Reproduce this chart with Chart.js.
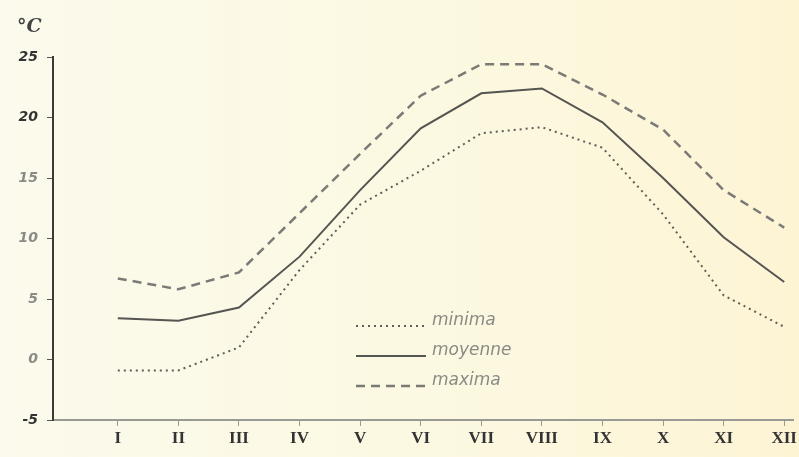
<!DOCTYPE html>
<html>
<head>
<meta charset="utf-8">
<script src="https://cdn.jsdelivr.net/npm/chart.js@4"></script>
<style>
  html, body { margin: 0; padding: 0; }
  body { width: 799px; height: 457px; background: linear-gradient(to right, #fbfaec, #fcf8e0 60%, #fdf4d4); }
  canvas { display: block; }
</style>
</head>
<body>
<canvas id="tempChart" width="799" height="457"></canvas>
<script>
// mois (chiffres romains)
var months = ['I', 'II', 'III', 'IV', 'V', 'VI', 'VII', 'VIII', 'IX', 'X', 'XI', 'XII'];
// températures en °C
var minima = [-0.9, -0.9, 1.0, 7.4, 12.8, 15.6, 18.7, 19.2, 17.5, 12.0, 5.3, 2.7];
var moyenne = [3.4, 3.2, 4.3, 8.5, 14.0, 19.1, 22.0, 22.4, 19.6, 15.0, 10.1, 6.4];
var maxima = [6.7, 5.8, 7.2, 12.1, 17.0, 21.8, 24.4, 24.4, 21.9, 19.0, 14.0, 10.9];
var yTicks = [-5, 0, 5, 10, 15, 20, 25];

function toPoints(arr) {
    return arr.map(function (v, i) { return { x: i + 1, y: v }; });
}

// °C en haut a gauche + legende dans le graphique
var extras = {
    id: 'extras',
    afterDraw: function (chart) {
        var c = chart.ctx;
        var area = chart.chartArea;
        c.save();
        c.fillStyle = '#444';
        c.font = 'italic bold 19px "DejaVu Serif"';
        c.textBaseline = 'alphabetic';
        c.fillText('°C', area.left - 36, area.top - 25);

        var lx = area.left + 303, ly = area.top + 265;
        chart.data.datasets.forEach(function (ds, i) {
            var y = ly + i * 30;
            c.beginPath();
            c.strokeStyle = ds.borderColor;
            c.lineWidth = ds.borderWidth;
            c.setLineDash(ds.borderDash || []);
            c.moveTo(lx, y + 4);
            c.lineTo(lx + 70, y + 4);
            c.stroke();
            c.setLineDash([]);
            c.fillStyle = '#8a8a86';
            c.font = 'italic 17px "DejaVu Sans"';
            c.fillText(ds.label, lx + 76, y + 3);
        });
        c.restore();
    }
};

var ctx = document.getElementById('tempChart').getContext('2d');
var chart = new Chart(ctx, {
    type: 'line',
    data: {
        datasets: [{
            label: 'minima',
            data: toPoints(minima),
            borderColor: '#5e5e5a',
            borderWidth: 2,
            borderDash: [2, 4],
            pointRadius: 0,
            tension: 0
        }, {
            label: 'moyenne',
            data: toPoints(moyenne),
            borderColor: '#555551',
            borderWidth: 2,
            pointRadius: 0,
            tension: 0
        }, {
            label: 'maxima',
            data: toPoints(maxima),
            borderColor: '#7a7a76',
            borderWidth: 2.5,
            borderDash: [9, 6],
            pointRadius: 0,
            tension: 0
        }]
    },
    options: {
        responsive: false,
        animation: false,
        layout: { padding: { top: 57, right: 2, left: 0, bottom: 0 } },
        plugins: {
            legend: { display: false },
            tooltip: { enabled: false }
        },
        scales: {
            x: {
                type: 'linear',
                min: -0.07,
                max: 12.16,
                afterBuildTicks: function (axis) {
                    axis.ticks = months.map(function (m, i) { return { value: i + 1 }; });
                },
                afterFit: function (axis) { axis.height = 37; },
                border: { color: '#9a9a94', width: 2 },
                grid: { drawOnChartArea: false, tickLength: 6, color: '#9a9a94' },
                ticks: {
                    autoSkip: false,
                    maxRotation: 0,
                    padding: 2,
                    color: '#333',
                    font: { family: '"Liberation Serif"', size: 17, weight: 'bold' },
                    callback: function (value) { return months[value - 1]; }
                }
            },
            y: {
                min: -5,
                max: 25,
                afterBuildTicks: function (axis) {
                    axis.ticks = yTicks.map(function (v) { return { value: v }; });
                },
                afterFit: function (axis) { axis.width = 53; },
                border: { color: '#3a3a38', width: 2 },
                grid: { drawOnChartArea: false, tickLength: 6, color: '#555' },
                ticks: {
                    autoSkip: false,
                    padding: 9,
                    color: function (context) {
                        var v = context.tick && context.tick.value;
                        return (v === 25 || v === 20 || v === -5) ? '#333' : '#8a8a86';
                    },
                    font: { family: '"DejaVu Sans"', size: 14, style: 'italic', weight: 'bold' }
                }
            }
        }
    },
    plugins: [extras]
});
</script>
</body>
</html>
